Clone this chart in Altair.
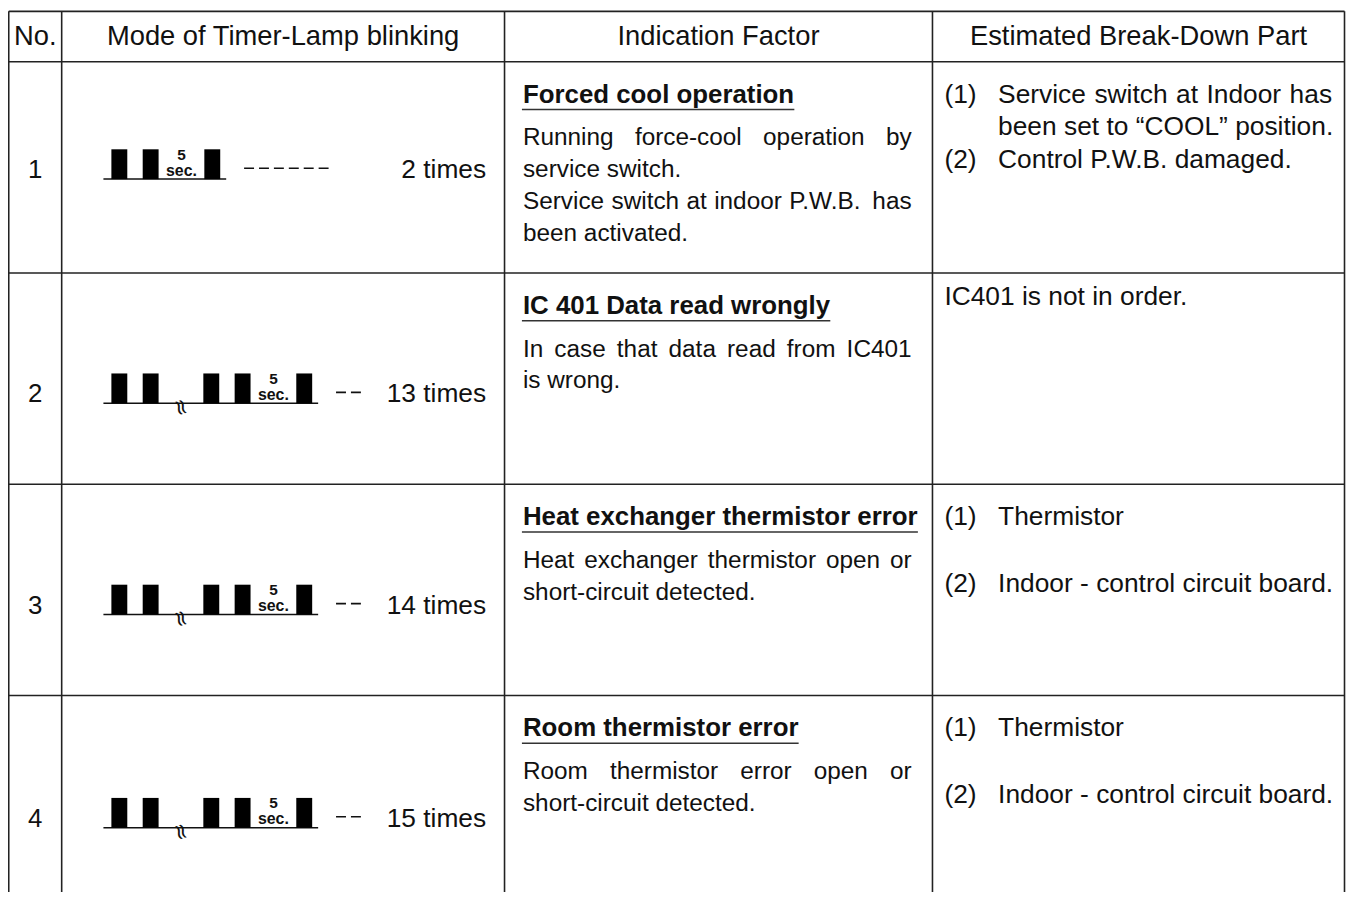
import altair as alt
import pandas as pd

# ---------------- data ----------------
headers = ["No.", "Mode of Timer-Lamp blinking", "Indication Factor", "Estimated Break-Down Part"]
numbers = ["1", "2", "3", "4"]
blink_times = ["2 times", "13 times", "14 times", "15 times"]
blink_patterns = [
    ["on", "off", "on", "pause", "on"],
    ["on", "off", "on", "break", "on", "off", "on", "pause", "on"],
    ["on", "off", "on", "break", "on", "off", "on", "pause", "on"],
    ["on", "off", "on", "break", "on", "off", "on", "pause", "on"],
]
pause_label = ["5", "sec."]
break_symbol = "≈"
dash_counts = [6, 2, 2, 2]
factor_titles = [
    "Forced cool operation",
    "IC 401 Data read wrongly",
    "Heat exchanger thermistor error",
    "Room thermistor error",
]
# paragraphs -> lines (every line but the last of a paragraph is justified)
factor_paragraphs = [
    [["Running force-cool operation by", "service switch."],
     ["Service switch at indoor P.W.B. has", "been activated."]],
    [["In case that data read from IC401", "is wrong."]],
    [["Heat exchanger thermistor open or", "short-circuit detected."]],
    [["Room thermistor error open or", "short-circuit detected."]],
]
part_labels = [["(1)", "(2)"], [""], ["(1)", "(2)"], ["(1)", "(2)"]]
part_paragraphs = [
    [["Service switch at Indoor has", "been set to \u201cCOOL\u201d position."], ["Control P.W.B. damaged."]],
    [["IC401 is not in order."]],
    [["Thermistor"], ["Indoor - control circuit board."]],
    [["Thermistor"], ["Indoor - control circuit board."]],
]

# ---------------- layout ----------------
X0, X1 = 8, 1354
Y0, Y1 = 8, 892
COL = [8.75, 62, 507.5, 938, 1352.5]
TOP = 8.75
HEAD_B = 59.5
ROW_H = 212.5
BOTTOM = 900
row_tops = [HEAD_B + i * ROW_H for i in range(4)]
lamp_off = [118, 131, 131, 133]
lamp_base = [t + o for t, o in zip(row_tops, lamp_off)]
para_offsets = [[[41, 74], [107]], [[32]], [[41], [108]], [[41], [108]]]
FONT = "Liberation Sans"
INK = "#111111"
HDR_SIZE, NUM_SIZE, TIMES_SIZE, TITLE_SIZE, BODY_SIZE, PART_SIZE = 27.5, 26, 26.5, 26, 24.5, 26.5
BODY_X, BODY_R = 526, 917
LAB_X, PART_X, PART_R = 950, 1004, 1340
TIMES_R = 489

# Arial / Liberation Sans advance widths (per em)
REG_W = {' ': .278, '(': .333, ')': .333, '-': .333, '.': .278, '\u201c': .333, '\u201d': .333,
         'A': .667, 'B': .667, 'C': .722, 'D': .722, 'E': .667, 'F': .611, 'H': .722, 'I': .278,
         'L': .556, 'O': .778, 'P': .667, 'R': .722, 'S': .667, 'T': .611, 'W': .944,
         'a': .556, 'b': .556, 'c': .5, 'd': .556, 'e': .556, 'f': .278, 'g': .556, 'h': .556,
         'i': .222, 'k': .5, 'l': .222, 'm': .833, 'n': .556, 'o': .556, 'p': .556, 'r': .333,
         's': .5, 't': .278, 'u': .556, 'v': .5, 'w': .722, 'x': .5, 'y': .5}
BOLD_W = {' ': .278, 'F': .611, 'o': .611, 'r': .389, 'c': .556, 'e': .556, 'd': .611,
          'l': .278, 'p': .611, 'a': .556, 't': .333, 'i': .278, 'n': .611, 'I': .278,
          'C': .722, 'D': .722, 'w': .778, 'g': .611, 'y': .556, 'H': .722, 'x': .556,
          'h': .611, 'm': .889, 's': .556, 'R': .722}
for dch in "0123456789":
    REG_W[dch] = .556
    BOLD_W[dch] = .556


def width(s, size, table):
    return sum(table.get(ch, .556) for ch in s) * size


def place_line(line, x_left, x_right, y, size, justify):
    """Return word records; words are spread to the right edge when justified."""
    if not justify:
        return [dict(x=x_left, y=y, text=line)]
    words = line.split(" ")
    ww = [width(w, size, REG_W) for w in words]
    gap = (x_right - x_left - sum(ww)) / max(len(words) - 1, 1)
    out, xc = [], x_left
    for w, wd in zip(words, ww):
        out.append(dict(x=xc, y=y, text=w))
        xc += wd + gap
    return out


xs = alt.Scale(domain=[X0, X1], nice=False, zero=False)
ys = alt.Scale(domain=[Y0, Y1], nice=False, zero=False, reverse=True)


def enc_xy(extra=None):
    d = dict(x=alt.X("x:Q", scale=xs, axis=None), y=alt.Y("y:Q", scale=ys, axis=None))
    if extra:
        d.update(extra)
    return d


def rule_enc():
    return enc_xy(dict(x2="x2:Q", y2="y2:Q"))


def text_enc():
    return enc_xy(dict(text="text:N"))


# grid lines
grid = [dict(x=c, x2=c, y=TOP, y2=BOTTOM) for c in COL]
grid += [dict(x=COL[0], x2=COL[-1], y=yv, y2=yv) for yv in [TOP, HEAD_B] + row_tops[1:]]
grid_df = pd.DataFrame(grid)

hdr_df = pd.DataFrame([dict(x=(COL[i] + COL[i + 1]) / 2, y=43, text=headers[i]) for i in range(4)])
num_df = pd.DataFrame([dict(x=(COL[0] + COL[1]) / 2, y=lamp_base[i] - 1, text=numbers[i]) for i in range(4)])

# lamp glyphs
GEOM = {"on": 16, "off": 15.5, "break": 45, "pause": 46}
blocks, bases, p5, psec, squig, dashes, times = [], [], [], [], [], [], []
for i, pat in enumerate(blink_patterns):
    b = lamp_base[i]
    xcur = 112
    for tok in pat:
        w = GEOM[tok]
        if tok == "on":
            blocks.append(dict(x=xcur, x2=xcur + w, y=b - 30, y2=b))
        elif tok == "pause":
            p5.append(dict(x=xcur + w / 2, y=b - 19.5, text=pause_label[0]))
            psec.append(dict(x=xcur + w / 2, y=b - 3.5, text=pause_label[1]))
        elif tok == "break":
            squig.append(dict(x=xcur + w / 2, y=b + 4, text=break_symbol))
        xcur += w
    bend = xcur + 6
    bases.append(dict(x=104, x2=bend, y=b, y2=b))
    ds = bend + 18
    dashes.append(dict(x=ds, x2=ds + dash_counts[i] * 15 - 5, y=b - 11, y2=b - 11))
    times.append(dict(x=TIMES_R, y=b - 1, text=blink_times[i]))

# indication factor
title_rows, ul_rows, body_rows = [], [], []
for i in range(4):
    t = row_tops[i]
    title_rows.append(dict(x=BODY_X, y=t + 41, text=factor_titles[i]))
    ul_rows.append(dict(x=BODY_X - 1, x2=BODY_X + width(factor_titles[i], TITLE_SIZE, BOLD_W),
                        y=t + 48, y2=t + 48))
    k = 0
    for para in factor_paragraphs[i]:
        for j, line in enumerate(para):
            body_rows += place_line(line, BODY_X, BODY_R, t + 84 + 32 * k, BODY_SIZE, j < len(para) - 1)
            k += 1

# estimated break-down part
lab_rows, part_rows = [], []
for i in range(4):
    t = row_tops[i]
    has_lab = any(part_labels[i])
    xl = PART_X if has_lab else LAB_X
    for p, para in enumerate(part_paragraphs[i]):
        for j, line in enumerate(para):
            yv = t + para_offsets[i][p][j]
            if j == 0 and part_labels[i][p]:
                lab_rows.append(dict(x=LAB_X, y=yv, text=part_labels[i][p]))
            part_rows += place_line(line, xl, PART_R, yv, PART_SIZE, j < len(para) - 1)

layers = [
    alt.Chart(grid_df).mark_rule(color="#222222", strokeWidth=1.6).encode(**rule_enc()),
    alt.Chart(hdr_df).mark_text(font=FONT, fontSize=HDR_SIZE, align="center", baseline="alphabetic",
                                color=INK).encode(**text_enc()),
    alt.Chart(num_df).mark_text(font=FONT, fontSize=NUM_SIZE, align="center", baseline="alphabetic",
                                color=INK).encode(**text_enc()),
    alt.Chart(pd.DataFrame(bases)).mark_rule(color=INK, strokeWidth=1.5).encode(**rule_enc()),
    alt.Chart(pd.DataFrame(blocks)).mark_rect(color="black").encode(**rule_enc()),
    alt.Chart(pd.DataFrame(p5)).mark_text(font=FONT, fontSize=15.5, fontWeight="bold", align="center",
                                          baseline="alphabetic", color=INK).encode(**text_enc()),
    alt.Chart(pd.DataFrame(psec)).mark_text(font=FONT, fontSize=16, fontWeight="bold", align="center",
                                            baseline="alphabetic", color=INK).encode(**text_enc()),
    alt.Chart(pd.DataFrame(squig)).mark_text(font="DejaVu Sans", fontSize=22, align="center",
                                             baseline="middle", angle=72, color=INK).encode(**text_enc()),
    alt.Chart(pd.DataFrame(dashes)).mark_rule(color=INK, strokeWidth=1.6, strokeDash=[10, 5]).encode(**rule_enc()),
    alt.Chart(pd.DataFrame(times)).mark_text(font=FONT, fontSize=TIMES_SIZE, align="right", baseline="alphabetic",
                                             color=INK).encode(**text_enc()),
    alt.Chart(pd.DataFrame(title_rows)).mark_text(font=FONT, fontSize=TITLE_SIZE, fontWeight="bold", align="left",
                                                  baseline="alphabetic", color=INK).encode(**text_enc()),
    alt.Chart(pd.DataFrame(ul_rows)).mark_rule(color="#333333", strokeWidth=1.5).encode(**rule_enc()),
    alt.Chart(pd.DataFrame(body_rows)).mark_text(font=FONT, fontSize=BODY_SIZE, align="left", baseline="alphabetic",
                                                 color=INK).encode(**text_enc()),
    alt.Chart(pd.DataFrame(lab_rows)).mark_text(font=FONT, fontSize=PART_SIZE, align="left", baseline="alphabetic",
                                                color=INK).encode(**text_enc()),
    alt.Chart(pd.DataFrame(part_rows)).mark_text(font=FONT, fontSize=PART_SIZE, align="left", baseline="alphabetic",
                                                 color=INK).encode(**text_enc()),
]

chart = alt.layer(*layers).properties(
    width=X1 - X0, height=Y1 - Y0, padding=0, autosize="none", background="white"
).configure_view(stroke=None)

chart.save("out.html", embed_options={"renderer": "svg", "actions": False})
